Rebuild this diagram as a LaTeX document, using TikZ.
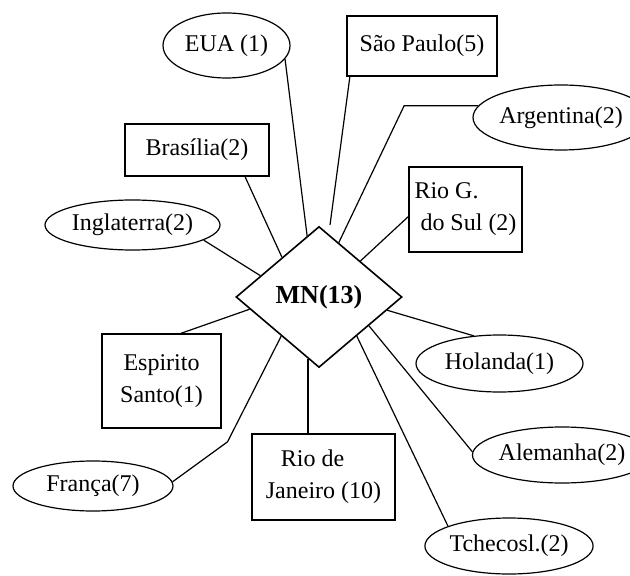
\documentclass[tikz,border=0pt]{standalone}
\usepackage{fontspec}
\setmainfont{Liberation Serif}
\usetikzlibrary{shapes.geometric}

\begin{document}
\begin{tikzpicture}[x=0.5pt,y=-0.5pt,line width=0.6pt,
    font=\fontsize{12}{16}\selectfont,
    ent/.style={draw, rectangle, inner sep=0pt},
    attr/.style={draw, ellipse, inner sep=0pt},
    rel/.style={draw, diamond, inner sep=0pt, line width=0.8pt,
        font=\fontsize{13}{16}\selectfont\bfseries}]
        \clip (0,0) rectangle (630,576);
        % Relationship
        \node[rel, minimum width=83pt, minimum height=70.5pt] (mn) at (319,297) {MN(13)};
        % EUA
        \node[attr, minimum width=63.5pt, minimum height=32.5pt] (eua) at (226.5,45.5) {EUA (1)};
        \draw (eua.-13) -- (mn.101);
        % Sao Paulo
        \node[ent, minimum width=75pt, minimum height=30pt] (sp) at (422,46) {São Paulo(5)};
        \coordinate (sptip) at (330,225);
        \draw (sp.203) -- (sptip);
        % Argentina
        \node[attr, minimum width=88pt, minimum height=32.5pt] (arg) at (561,117.5) {Argentina(2)};
        \draw (arg.172) -- ++(-74,0) -- (mn.70);
        % Rio G. do Sul
        \node[ent, minimum width=56.5pt, minimum height=42.5pt, align=left] (rg) at (465.5,209.5)
            {Rio G.\\\hspace{3pt}do Sul (2)};
        \draw (rg.187) -- (mn.41);
        % Brasilia
        \node[ent, minimum width=72pt, minimum height=26pt] (bra) at (197,150) {Brasília(2)};
        \draw (bra.-29.5) -- (mn.133);
        % Inglaterra
        \node[attr, minimum width=87.5pt, minimum height=25pt] (ing) at (132.5,225) {Inglaterra(2)};
        \draw (ing.-12) -- (mn.160);
        % Espirito Santo
        \node[ent, minimum width=59.5pt, minimum height=47pt, align=center] (es) at (161.5,381)
            {Espirito\\Santo(1)};
        \draw (es.68.5) -- (mn.190);
        % Franca
        \node[attr, minimum width=80pt, minimum height=25pt] (fra) at (93,486) {França(7)};
        \draw (fra.3) -- ++(55,-40) -- (mn.226);
        % Rio de Janeiro
        \node[ent, minimum width=71.5pt, minimum height=43pt, align=left] (rj) at (323.5,477)
            {\hspace{7.5pt}Rio de\\Janeiro (10)};
        \draw (mn.260) -- (mn.260 |- rj.north);
        % Holanda
        \node[attr, minimum width=83.5pt, minimum height=28.5pt] (hol) at (499.5,363.5) {Holanda(1)};
        \draw (hol.133) -- (mn.-11);
        % Alemanha
        \node[attr, minimum width=89pt, minimum height=28pt] (ale) at (562,455) {Alemanha(2)};
        \draw (ale.178) -- (mn.-30);
        % Tchecosl.
        \node[attr, minimum width=83pt, minimum height=28pt] (tch) at (509,546) {Tchecosl.(2)};
        \draw (tch.162) -- (mn.-46);
    \end{tikzpicture}
\end{document}
